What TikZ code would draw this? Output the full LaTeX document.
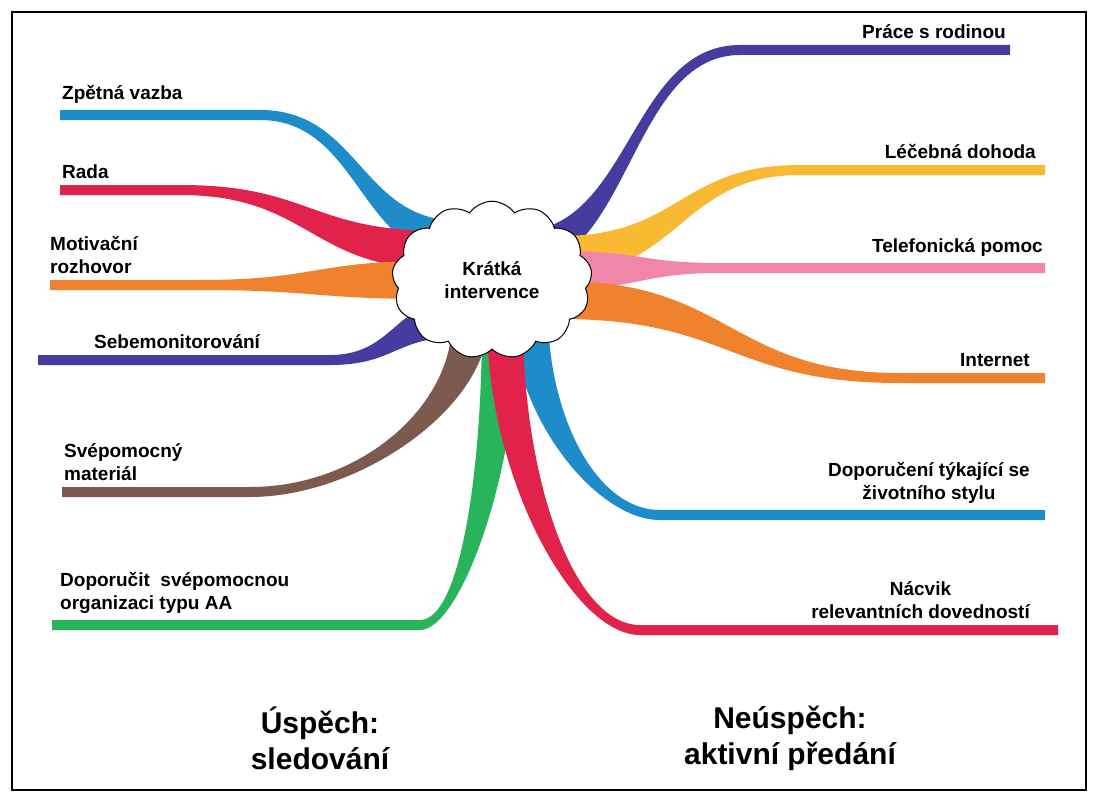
\documentclass[tikz,border=0pt]{standalone}
\usepackage{fontspec}
\setmainfont{Liberation Sans}
\usetikzlibrary{shapes.symbols}
\definecolor{cblue}{RGB}{30,140,200}
\definecolor{cred}{RGB}{225,35,75}
\definecolor{corange}{RGB}{240,130,45}
\definecolor{cindigo}{RGB}{70,60,160}
\definecolor{cbrown}{RGB}{125,90,80}
\definecolor{cgreen}{RGB}{40,180,90}
\definecolor{cyellow}{RGB}{250,185,50}
\definecolor{cpink}{RGB}{240,135,170}
% tapered branch: colour, far x, far y, knee x, cloud x, cloud y
\newcommand{\branch}[6]{%
  \pgfmathsetmacro\mx{(#4+#5)/2}
  \fill[#1] (#2,#3-5) -- (#4,#3-5) .. controls (\mx,#3-5) and (\mx,#6-19) .. (#5,#6-19)
    -- (#5,#6+19) .. controls (\mx,#6+19) and (\mx,#3+5) .. (#4,#3+5) -- (#2,#3+5) -- cycle;}
% rising branch: colour, far x, far y, knee x, cloud x, cloud y, side (+1/-1)
\newcommand{\vbranch}[7]{%
  \pgfmathsetmacro\mx{(#4+#5)/2}
  \pgfmathsetmacro\my{(#3+#6)/2}
  \pgfmathsetmacro\dx{18*#7}
  \fill[#1] (#2,#3-5) -- (#4,#3-5) .. controls (\mx,#3-5) and (#5-\dx,\my) .. (#5-\dx,#6)
    -- (#5+\dx,#6) .. controls (#5+\dx,\my) and (\mx,#3+5) .. (#4,#3+5) -- (#2,#3+5) -- cycle;}
\begin{document}
\begin{tikzpicture}[x=1pt, y=-1pt, font=\bfseries\fontsize{19}{23}\selectfont,
  lab/.style = {inner sep=2pt, align=left},
  rlab/.style = {inner sep=2pt, align=center},
  big/.style = {font=\bfseries\fontsize{30}{36}\selectfont, align=center}]
  \useasboundingbox (0,0) rectangle (1098,800);
  \draw[line width=1.2pt] (12,12) rectangle (1086,790);
  % left side
  \branch{cblue}{60}{115}{260}{460}{240}
  \branch{cred}{60}{190}{180}{440}{250}
  \branch{corange}{50}{285}{200}{430}{280}
  \branch{cindigo}{38}{360}{330}{460}{318}
  \vbranch{cbrown}{62}{492}{250}{470}{322}{1}
  \vbranch{cgreen}{52}{625}{420}{500}{322}{1}
  % right side
  \branch{cindigo}{1010}{50}{740}{520}{250}
  \branch{cyellow}{1045}{170}{800}{560}{255}
  \branch{cpink}{1045}{268}{720}{560}{270}
  \branch{corange}{1045}{378}{900}{560}{300}
  \vbranch{cblue}{1045}{515}{660}{530}{312}{-1}
  \vbranch{cred}{1058}{630}{640}{505}{322}{-1}
  \node[cloud, draw, fill=white, line width=1pt, cloud puffs=13, cloud puff arc=110,
    minimum width=200pt, minimum height=92pt, align=center] (kratka) at (492,280)
    {Krátká\\intervence};
  \node[lab, anchor=south west] (zpetna) at (60,106) {Zpětná vazba};
  \node[lab, anchor=south west] (rada) at (60,181) {Rada};
  \node[lab, anchor=south west] (motiv) at (48,276) {Motivační\\rozhovor};
  \node[lab, anchor=south west] (sebe) at (92,351) {Sebemonitorování};
  \node[lab, anchor=south west] (svepo) at (62,483) {Svépomocný\\materiál};
  \node[lab, anchor=south west] (doporucit) at (58,616) {Doporučit\ \ svépomocnou\\organizaci typu AA};
  \node[rlab, anchor=south east] (prace) at (1008,41) {Práce s rodinou};
  \node[rlab, anchor=south east] (lecebna) at (1038,161) {Léčebná dohoda};
  \node[rlab, anchor=south east] (telef) at (1045,259) {Telefonická pomoc};
  \node[rlab, anchor=south east] (inter) at (1032,369) {Internet};
  \node[rlab, anchor=south east] (zivot) at (1032,506) {Doporučení týkající se\\životního stylu};
  \node[rlab, anchor=south east] (nacvik) at (1032,621) {Nácvik\\relevantních dovedností};
  \node[big] (uspech) at (320,738) {Úspěch:\\sledování};
  \node[big] (neuspech) at (790,738) {Neúspěch:\\aktivní předání};
\end{tikzpicture}
\end{document}
